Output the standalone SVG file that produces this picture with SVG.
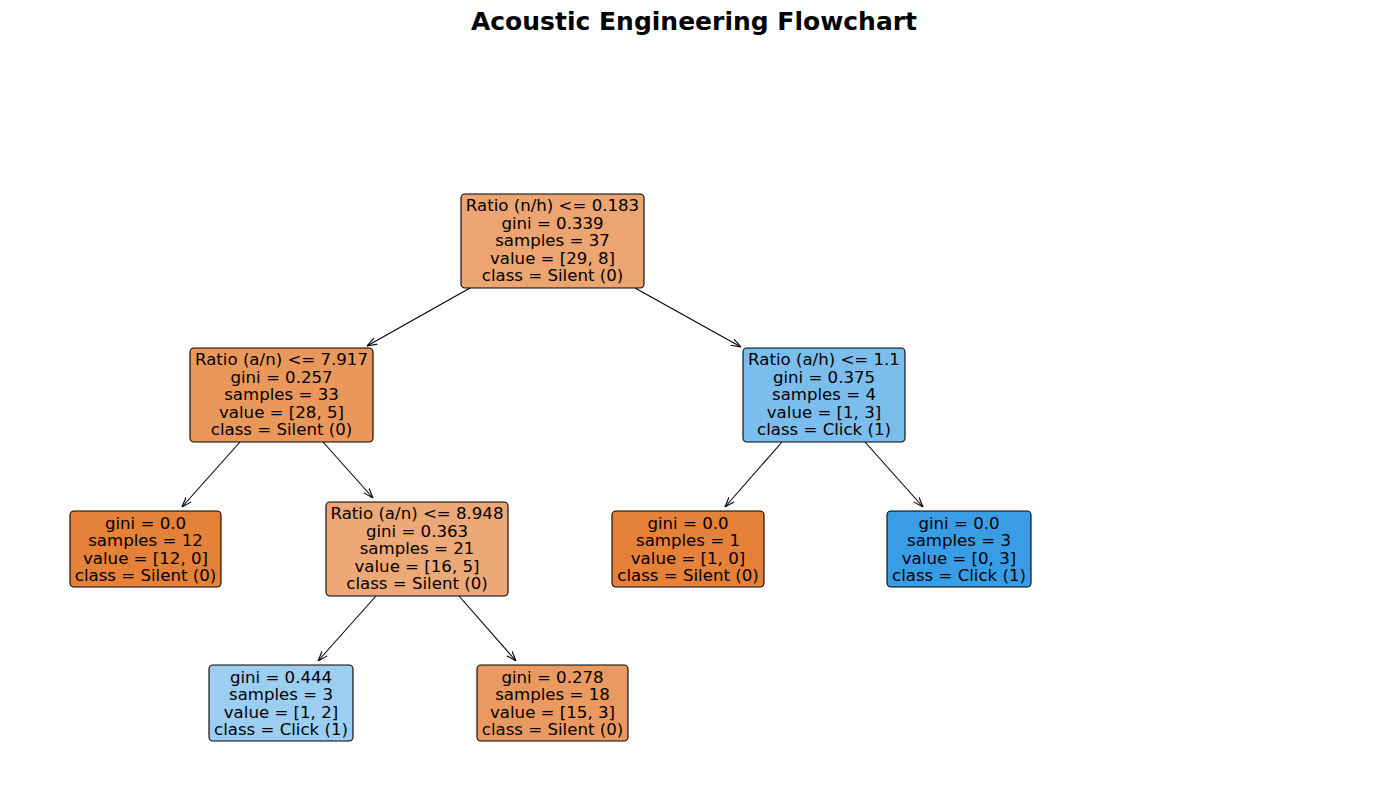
<svg xmlns="http://www.w3.org/2000/svg" width="1389" height="790" viewBox="0 0 1389 790">
<style>
.box{stroke:#000;stroke-width:1.1}
.t{font-family:"DejaVu Sans",sans-serif;font-size:16.6px;text-anchor:middle;fill:#000}
.title{font-family:"DejaVu Sans",sans-serif;font-size:25px;font-weight:bold;text-anchor:middle;fill:#000}
.e{stroke:#000;stroke-width:1.1;fill:none;marker-end:url(#ah)}
</style>
<defs>
<marker id="ah" viewBox="0 0 10 10" refX="10" refY="5" markerWidth="10" markerHeight="10" markerUnits="userSpaceOnUse" orient="auto">
<path d="M0,1.5 L10,5 L0,8.5" fill="none" stroke="#000" stroke-width="1.1"/>
</marker>
</defs>
<rect width="1389" height="790" fill="#fff"/>
<text class="title" x="694" y="30">Acoustic Engineering Flowchart</text>
<g id="connectors">
<line class="e" x1="470" y1="288" x2="367" y2="346"/>
<line class="e" x1="635" y1="288" x2="741" y2="347"/>
<line class="e" x1="240" y1="442" x2="182" y2="507"/>
<line class="e" x1="323" y1="442" x2="373" y2="498"/>
<line class="e" x1="376" y1="596" x2="318" y2="661"/>
<line class="e" x1="459" y1="596" x2="516" y2="661"/>
<line class="e" x1="782" y1="442" x2="725" y2="507"/>
<line class="e" x1="865" y1="442" x2="923" y2="507"/>
</g>
<g id="n0">
<rect class="box" x="461" y="194" width="183" height="94" rx="4" fill="#eca470"/>
<text class="t" x="552.5" y="211">Ratio (n/h) &lt;= 0.183</text>
<text class="t" x="552.5" y="228.5">gini = 0.339</text>
<text class="t" x="552.5" y="246">samples = 37</text>
<text class="t" x="552.5" y="263.5">value = [29, 8]</text>
<text class="t" x="552.5" y="281">class = Silent (0)</text>
</g>
<g id="n1">
<rect class="box" x="190" y="348" width="183" height="94" rx="4" fill="#ea975c"/>
<text class="t" x="281.5" y="365">Ratio (a/n) &lt;= 7.917</text>
<text class="t" x="281.5" y="382.5">gini = 0.257</text>
<text class="t" x="281.5" y="400">samples = 33</text>
<text class="t" x="281.5" y="417.5">value = [28, 5]</text>
<text class="t" x="281.5" y="435">class = Silent (0)</text>
</g>
<g id="n2">
<rect class="box" x="70" y="511" width="151" height="76" rx="4" fill="#e58139"/>
<text class="t" x="145.5" y="528.5">gini = 0.0</text>
<text class="t" x="145.5" y="546">samples = 12</text>
<text class="t" x="145.5" y="563.5">value = [12, 0]</text>
<text class="t" x="145.5" y="581">class = Silent (0)</text>
</g>
<g id="n3">
<rect class="box" x="326" y="502" width="182" height="94" rx="4" fill="#eda877"/>
<text class="t" x="417" y="519">Ratio (a/n) &lt;= 8.948</text>
<text class="t" x="417" y="536.5">gini = 0.363</text>
<text class="t" x="417" y="554">samples = 21</text>
<text class="t" x="417" y="571.5">value = [16, 5]</text>
<text class="t" x="417" y="589">class = Silent (0)</text>
</g>
<g id="n4">
<rect class="box" x="209" y="665" width="144" height="76" rx="4" fill="#9ccef2"/>
<text class="t" x="281" y="682.5">gini = 0.444</text>
<text class="t" x="281" y="700">samples = 3</text>
<text class="t" x="281" y="717.5">value = [1, 2]</text>
<text class="t" x="281" y="735">class = Click (1)</text>
</g>
<g id="n5">
<rect class="box" x="477" y="665" width="151" height="76" rx="4" fill="#ea9a61"/>
<text class="t" x="552.5" y="682.5">gini = 0.278</text>
<text class="t" x="552.5" y="700">samples = 18</text>
<text class="t" x="552.5" y="717.5">value = [15, 3]</text>
<text class="t" x="552.5" y="735">class = Silent (0)</text>
</g>
<g id="n6">
<rect class="box" x="743" y="348" width="162" height="94" rx="4" fill="#7bbeee"/>
<text class="t" x="824" y="365">Ratio (a/h) &lt;= 1.1</text>
<text class="t" x="824" y="382.5">gini = 0.375</text>
<text class="t" x="824" y="400">samples = 4</text>
<text class="t" x="824" y="417.5">value = [1, 3]</text>
<text class="t" x="824" y="435">class = Click (1)</text>
</g>
<g id="n7">
<rect class="box" x="612" y="511" width="152" height="76" rx="4" fill="#e58139"/>
<text class="t" x="688" y="528.5">gini = 0.0</text>
<text class="t" x="688" y="546">samples = 1</text>
<text class="t" x="688" y="563.5">value = [1, 0]</text>
<text class="t" x="688" y="581">class = Silent (0)</text>
</g>
<g id="n8">
<rect class="box" x="887" y="511" width="144" height="76" rx="4" fill="#399de5"/>
<text class="t" x="959" y="528.5">gini = 0.0</text>
<text class="t" x="959" y="546">samples = 3</text>
<text class="t" x="959" y="563.5">value = [0, 3]</text>
<text class="t" x="959" y="581">class = Click (1)</text>
</g>
</svg>
